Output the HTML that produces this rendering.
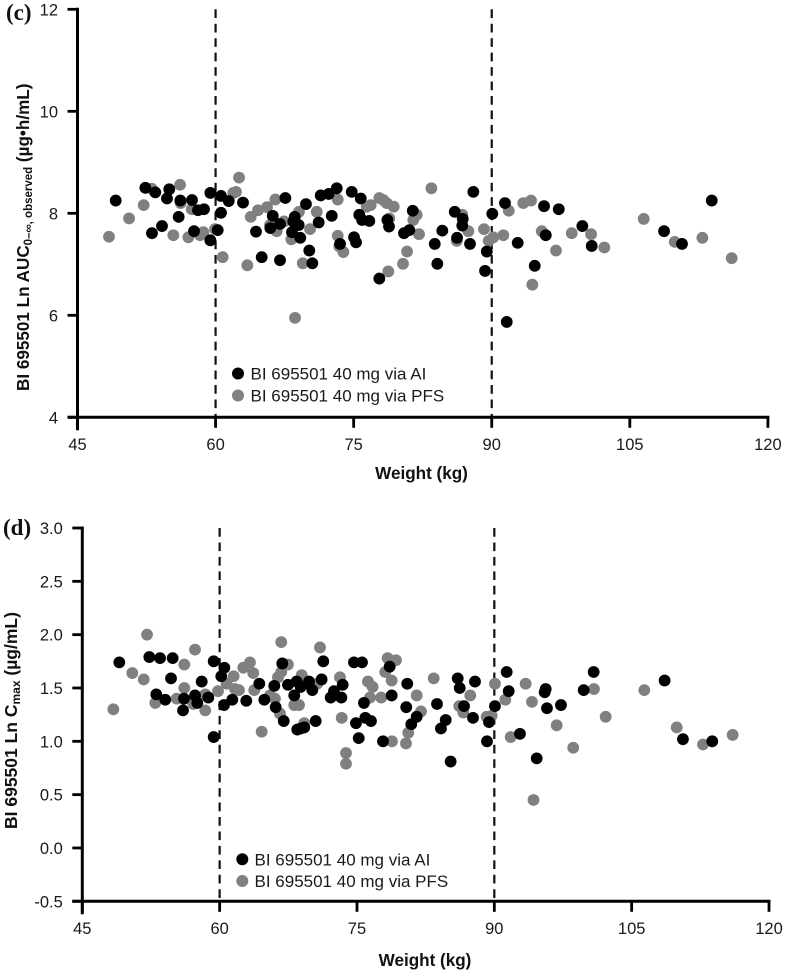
<!DOCTYPE html>
<html lang="en">
<head>
<meta charset="utf-8">
<title>BI 695501 exposure versus weight</title>
<style>
html,body{margin:0;padding:0;background:#fff;width:787px;height:974px;overflow:hidden}
svg{display:block}
text{font-family:"Liberation Sans",Arial,sans-serif;fill:#1a1a1a}
.tick{font-size:16.5px}
.legend{font-size:17px}
.title{font-size:17.1px;font-weight:bold;fill:#111}
.panel{font-family:"Liberation Serif",serif;font-size:23px;font-weight:bold;fill:#111}
</style>
</head>
<body>
<svg id="figure" xmlns="http://www.w3.org/2000/svg" width="787" height="974" viewBox="0 0 787 974">
  <rect width="787" height="974" fill="#fff"/>
  <g id="chart-c"></g>
  <g id="chart-d"></g>

  <text class="panel" x="6" y="20">(c)</text>
  <text class="panel" x="3" y="535">(d)</text>

  <text class="title" x="421.5" y="479" text-anchor="middle">Weight (kg)</text>
  <text class="title" x="425" y="966" text-anchor="middle">Weight (kg)</text>

  <text class="title" transform="translate(29,391) rotate(-90)">BI 695501 Ln AUC<tspan font-size="11.5" dy="3">0–∞, observed</tspan><tspan dy="-3"> (µg•h/mL)</tspan></text>
  <text class="title" transform="translate(17,829) rotate(-90)" style="font-size:17.5px">BI 695501 Ln C<tspan font-size="12" dy="3">max</tspan><tspan dy="-3"> (µg/mL)</tspan></text>

  <g>
    <circle cx="238" cy="373.5" r="6" fill="#000"/>
    <text class="legend" x="250.5" y="379.5">BI 695501 40 mg via AI</text>
    <circle cx="238" cy="395.5" r="6" fill="#808080"/>
    <text class="legend" x="250.5" y="401.5">BI 695501 40 mg via PFS</text>
  </g>
  <g>
    <circle cx="242.3" cy="859.3" r="6" fill="#000"/>
    <text class="legend" x="254.5" y="865.3">BI 695501 40 mg via AI</text>
    <circle cx="242.3" cy="881" r="6" fill="#808080"/>
    <text class="legend" x="254.5" y="887">BI 695501 40 mg via PFS</text>
  </g>
</svg>
<script>
const weightTicks = [45, 60, 75, 90, 105, 120];
const referenceWeights = [60, 90];
const aucTicks = [4, 6, 8, 10, 12];
const cmaxTicks = [-0.5, 0, 0.5, 1, 1.5, 2, 2.5, 3];
const cmaxTickLabels = ["-0.5", "0.0", "0.5", "1.0", "1.5", "2.0", "2.5", "3.0"];

const aucAiWeight = [49.15,52.37,53.45,54.97,54.72,56.17,57.44,58.09,58.74,59.43,60.59,61.43,62.98,60.59,55.99,54.18,53.09,57.66,60.23,59.43,64.39,65.01,67.0,67.58,69.82,66.21,67.0,65.95,68.6,68.44,69.03,68.3,69.2,70.18,70.51,71.2,71.42,72.29,73.16,72.62,73.52,74.79,75.77,75.61,75.91,76.7,75.04,75.26,77.79,78.66,78.84,80.47,81.05,81.42,83.81,84.63,84.09,85.98,86.85,86.8,86.23,87.64,88.0,89.46,89.27,90.06,91.44,92.82,91.63,94.67,95.68,95.87,97.28,99.84,100.86,108.72,110.67,113.9];
const aucAiValue = [8.25,8.50,8.41,8.47,8.29,8.25,8.26,8.06,8.08,8.40,8.34,8.24,8.21,8.01,7.93,7.75,7.61,7.65,7.67,7.47,7.64,7.14,7.08,8.30,8.18,7.95,7.79,7.71,7.93,7.84,7.77,7.63,7.52,7.27,7.02,7.82,8.35,8.38,8.49,7.95,7.40,8.42,8.29,7.97,7.87,7.85,7.53,7.43,6.72,7.87,7.74,7.61,7.67,8.05,7.40,7.66,7.01,8.03,7.89,7.76,7.52,7.40,8.42,7.25,6.87,7.99,8.20,7.42,5.87,6.97,8.14,7.57,8.08,7.75,7.36,7.65,7.40,8.25];
const aucPfsWeight = [48.42,50.6,52.19,53.06,56.14,56.21,55.41,57.04,57.41,58.31,58.67,59.94,60.77,61.93,62.22,62.55,63.82,63.45,64.61,65.59,66.49,66.64,65.91,67.43,68.23,69.06,68.63,69.47,70.26,70.99,73.27,73.27,73.44,73.88,76.42,76.85,77.79,78.22,78.59,79.35,78.87,78.76,80.36,80.8,81.48,81.85,82.1,83.44,86.8,87.46,86.2,89.16,89.67,90.17,91.26,91.85,93.43,94.27,94.41,95.43,96.98,98.69,100.79,102.23,106.51,109.88,112.88,116.07];
const aucPfsValue = [7.54,7.90,8.16,8.48,8.56,8.20,7.57,7.53,8.08,7.57,7.63,7.69,7.14,8.40,8.42,8.70,7.93,6.98,8.06,8.12,8.27,7.65,7.77,7.84,7.49,8.03,5.95,7.02,7.69,8.03,8.27,7.56,7.35,7.24,8.13,8.16,8.30,8.26,8.20,8.13,7.90,6.86,7.01,7.25,7.87,7.97,7.59,8.49,7.97,7.65,7.46,7.69,7.46,7.53,7.57,8.05,8.20,8.25,6.60,7.65,7.27,7.61,7.59,7.33,7.89,7.44,7.52,7.12];

const cmaxAiWeight = [49.04,52.32,53.49,54.87,54.69,53.08,54.06,56.11,56.0,57.31,57.56,58.04,58.76,59.35,59.35,60.51,60.18,60.48,61.38,62.91,64.33,64.88,65.97,66.12,67.0,66.84,67.46,68.41,68.15,68.85,68.48,68.85,69.24,69.68,69.76,70.12,71.14,71.32,70.49,72.13,72.49,73.44,73.29,74.67,75.55,75.76,74.89,75.91,76.53,75.19,77.84,78.57,78.79,80.49,80.38,81.52,80.93,83.74,84.69,84.17,85.23,86.0,86.22,86.69,87.89,87.67,90.07,89.42,89.2,91.35,91.57,92.8,94.63,95.61,95.5,95.75,97.28,99.76,100.85,108.6,110.6,113.8];
const cmaxAiValue = [1.74,1.79,1.78,1.78,1.59,1.44,1.39,1.40,1.29,1.43,1.36,1.56,1.41,1.75,1.04,1.69,1.61,1.34,1.39,1.38,1.54,1.39,1.52,1.32,1.19,1.73,1.53,1.56,1.43,1.51,1.11,1.12,1.13,1.54,1.56,1.48,1.58,1.75,1.19,1.41,1.47,1.53,1.41,1.74,1.74,1.36,1.17,1.22,1.19,1.03,1.00,1.70,1.43,1.54,1.32,1.23,1.16,1.35,1.20,1.12,0.81,1.59,1.50,1.33,1.56,1.22,1.33,1.18,1.00,1.65,1.47,1.07,0.84,1.49,1.46,1.31,1.34,1.48,1.65,1.57,1.02,1.00];
const cmaxPfsWeight = [48.39,50.46,51.71,52.07,52.97,56.14,57.31,56.14,55.31,57.12,58.43,58.43,59.82,60.77,61.53,61.68,62.11,62.58,63.31,63.67,63.78,64.59,65.5,66.04,66.59,66.37,66.73,66.73,67.46,68.15,68.67,68.96,69.24,70.66,70.96,73.14,73.33,73.8,73.8,76.2,76.71,76.42,77.65,78.35,79.26,78.09,78.79,78.82,80.6,80.35,81.52,81.99,83.38,86.17,86.61,87.37,89.16,89.71,90.07,91.2,93.42,94.11,91.79,94.28,96.81,98.62,100.88,102.16,106.38,109.92,112.79,116.03];
const cmaxPfsValue = [1.30,1.64,1.58,2.00,1.36,1.72,1.86,1.50,1.40,1.35,1.29,1.44,1.47,1.54,1.61,1.49,1.48,1.69,1.74,1.64,1.48,1.09,1.43,1.40,1.26,1.60,1.65,1.93,1.72,1.34,1.34,1.62,1.17,1.54,1.88,1.60,1.22,0.89,0.79,1.56,1.51,1.41,1.41,1.78,1.76,1.65,1.57,1.00,1.08,0.98,1.43,1.28,1.59,1.33,1.27,1.43,1.23,1.24,1.54,1.39,1.54,1.37,1.04,0.45,1.15,0.94,1.49,1.23,1.48,1.13,0.97,1.06];

const SVG_NS = 'http://www.w3.org/2000/svg';

function linearScale(d0, d1, r0, r1) {
  return function (v) { return r0 + (v - d0) * (r1 - r0) / (d1 - d0); };
}

function drawChart(root, opts) {
  const x = opts.x, y = opts.y;
  const x0 = x(weightTicks[0]), xEnd = x(weightTicks[weightTicks.length - 1]);
  const yBase = y(opts.yTicks[0]), yTop = y(opts.yTicks[opts.yTicks.length - 1]);

  referenceWeights.forEach(function (w) {
    const el = document.createElementNS(SVG_NS, 'line');
    
    
    el.setAttribute('x1', x(w));
    el.setAttribute('x2', x(w));
    el.setAttribute('y1', yTop);
    el.setAttribute('y2', yBase);
    el.setAttribute('stroke', '#111');
    el.setAttribute('stroke-width', '2.2');
    el.setAttribute('stroke-dasharray', '8.7 5.75');
    root.appendChild(el);
  });

  opts.pfsW.forEach(function (w, i) {
    const el = document.createElementNS(SVG_NS, 'circle');
    
    
    el.setAttribute('cx', x(w));
    el.setAttribute('cy', y(opts.pfsV[i]));
    el.setAttribute('r', 5.9);
    el.setAttribute('fill', '#808080');
    root.appendChild(el);
  });
  opts.aiW.forEach(function (w, i) {
    const el = document.createElementNS(SVG_NS, 'circle');
    
    
    el.setAttribute('cx', x(w));
    el.setAttribute('cy', y(opts.aiV[i]));
    el.setAttribute('r', 5.9);
    el.setAttribute('fill', '#000');
    root.appendChild(el);
  });

  const yAxis = document.createElementNS(SVG_NS, 'line');
  
  
  yAxis.setAttribute('x1', x0);
  yAxis.setAttribute('x2', x0);
  yAxis.setAttribute('y1', yTop - 1.5);
  yAxis.setAttribute('y2', yBase + 13);
  yAxis.setAttribute('stroke', '#000');
  yAxis.setAttribute('stroke-width', '3');
  root.appendChild(yAxis);

  const xAxis = document.createElementNS(SVG_NS, 'line');
  
  
  xAxis.setAttribute('x1', x0 - 10);
  xAxis.setAttribute('x2', xEnd + 1.5);
  xAxis.setAttribute('y1', yBase);
  xAxis.setAttribute('y2', yBase);
  xAxis.setAttribute('stroke', '#000');
  xAxis.setAttribute('stroke-width', '3');
  root.appendChild(xAxis);

  opts.yTicks.forEach(function (t, i) {
    const py = y(t);
    const mark = document.createElementNS(SVG_NS, 'line');
    
    
    mark.setAttribute('x1', x0 - 10);
    mark.setAttribute('x2', x0);
    mark.setAttribute('y1', py);
    mark.setAttribute('y2', py);
    mark.setAttribute('stroke', '#000');
    mark.setAttribute('stroke-width', '2.8');
    root.appendChild(mark);
    const label = document.createElementNS(SVG_NS, 'text');
    
    
    label.setAttribute('class', 'tick');
    label.setAttribute('x', x0 - 19.5);
    label.setAttribute('y', py + 6);
    label.setAttribute('text-anchor', 'end');
    label.textContent = opts.yLabels[i];
    root.appendChild(label);
  });

  weightTicks.forEach(function (t) {
    const px = x(t);
    const mark = document.createElementNS(SVG_NS, 'line');
    
    
    mark.setAttribute('x1', px);
    mark.setAttribute('x2', px);
    mark.setAttribute('y1', yBase);
    mark.setAttribute('y2', yBase + 10.5);
    mark.setAttribute('stroke', '#000');
    mark.setAttribute('stroke-width', '2.8');
    root.appendChild(mark);
    const label = document.createElementNS(SVG_NS, 'text');
    
    
    label.setAttribute('class', 'tick');
    label.setAttribute('x', px);
    label.setAttribute('y', yBase + 32.5);
    label.setAttribute('text-anchor', 'middle');
    label.textContent = t;
    root.appendChild(label);
  });
}

drawChart(document.getElementById('chart-c'), {
  x: linearScale(45, 120, 77.5, 767.9),
  y: linearScale(4, 12, 417.3, 9.3),
  yTicks: aucTicks,
  yLabels: aucTicks,
  aiW: aucAiWeight, aiV: aucAiValue,
  pfsW: aucPfsWeight, pfsV: aucPfsValue
});
drawChart(document.getElementById('chart-d'), {
  x: linearScale(45, 120, 82.3, 769),
  y: linearScale(-0.5, 3, 901.3, 528),
  yTicks: cmaxTicks,
  yLabels: cmaxTickLabels,
  aiW: cmaxAiWeight, aiV: cmaxAiValue,
  pfsW: cmaxPfsWeight, pfsV: cmaxPfsValue
});
</script>
</body>
</html>
